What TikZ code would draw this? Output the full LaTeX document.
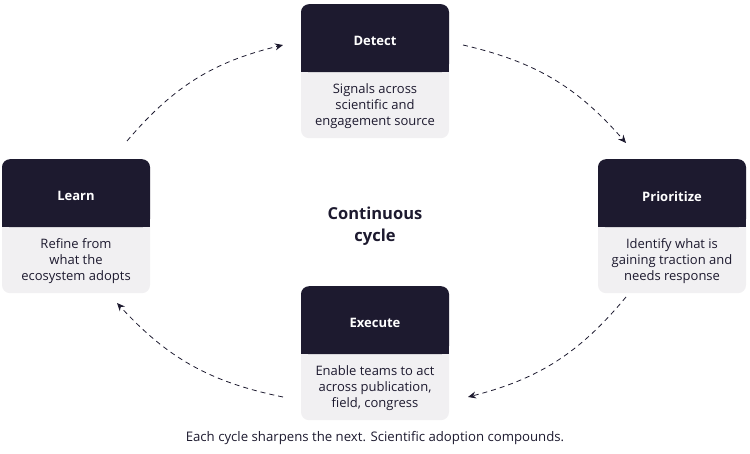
\documentclass[tikz,border=0pt]{standalone}
\usepackage{fontspec}
\setmainfont{Open Sans}
\usetikzlibrary{arrows.meta}
\definecolor{ink}{HTML}{1D1A2F}
\definecolor{pale}{HTML}{F1F0F2}
\tikzset{
  card/.style = {draw=none,fill=pale,rounded corners=8pt,minimum width=148pt,minimum height=134pt},
  head/.style = {fill=ink,rounded corners=8pt,minimum width=148pt,minimum height=68pt},
  title/.style = {text=white,font=\bfseries\fontsize{13}{15}\selectfont},
  note/.style = {align=center,text=ink,font=\fontsize{13}{16}\selectfont},
  flow/.style = {draw=ink,dashed,dash pattern=on 5pt off 4pt,thick,-{Stealth[length=8pt,width=7pt]}}
}
\newcommand{\stage}[5]{% name, x, y(top), title, text
  \node[card,anchor=north] (#1) at (#2,#3) {};
  \node[head,anchor=north] (#1h) at (#2,#3) {};
  \fill[ink] ([yshift=10pt]#1h.south west) rectangle (#1h.south east);
  \node[title] at ([yshift=-3pt]#1h.center) {#4};
  \node[note] at ([yshift=-34pt]#1h.south) {#5};
}
\begin{document}
\begin{tikzpicture}[x=1pt,y=-1pt]
  \useasboundingbox (0,0) rectangle (750,454);
  \stage{detect}{375}{4}{Detect}{Signals across\\scientific and\\engagement source}
  \stage{prior}{672}{159}{Prioritize}{Identify what is\\gaining traction and\\needs response}
  \stage{learn}{76}{159}{Learn}{Refine from\\what the\\ecosystem adopts}
  \stage{exec}{375}{286}{Execute}{Enable teams to act\\across publication,\\field, congress}

  \node[text=ink,align=center,font=\bfseries\fontsize{16.5}{22}\selectfont] (center) at (375,226) {Continuous\\cycle};
  \node[text=ink,font=\fontsize{13.2}{15}\selectfont] (caption) at (375,438) {Each cycle sharpens the next. Scientific adoption compounds.};

  \coordinate (a1) at (127,141); \coordinate (a2) at (283,45);
  \coordinate (b1) at (463,45);  \coordinate (b2) at (626,143);
  \coordinate (c1) at (626,297); \coordinate (c2) at (468,397);
  \coordinate (d1) at (283,397); \coordinate (d2) at (117,303);
  \draw[flow] (a1) to[bend left=18] (a2);
  \draw[flow] (b1) to[bend left=18] (b2);
  \draw[flow] (c1) to[bend left=18] (c2);
  \draw[flow] (d1) to[bend left=18] (d2);
\end{tikzpicture}
\end{document}
